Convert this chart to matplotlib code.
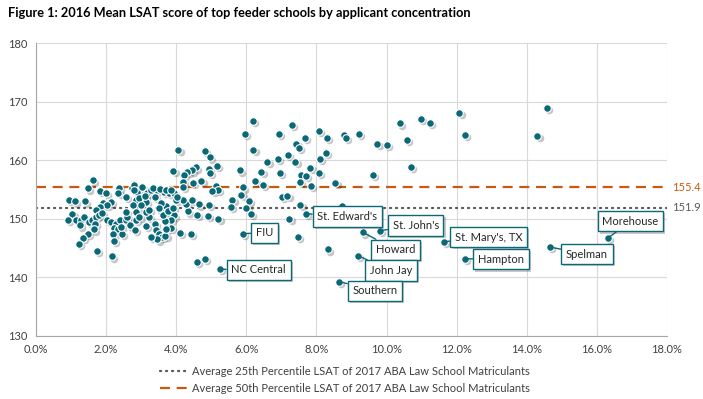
import matplotlib
matplotlib.use("Agg")
import matplotlib.pyplot as plt
import matplotlib.transforms as mtransforms
import matplotlib.patheffects as pe
from matplotlib.lines import Line2D
from matplotlib.ticker import FuncFormatter

plt.rcParams['font.family'] = ['Lato', 'DejaVu Sans']

# applicant concentration (%) and mean LSAT, unlabeled schools
conc = [
    1.62, 1.47, 1.82, 1.99, 2.36, 2.35, 2.56, 2.73, 2.80, 2.87, 2.84, 2.76, 0.93, 1.11,
    1.39, 1.90, 2.13, 2.03, 1.83, 1.70, 1.04, 1.13, 0.91, 1.28, 1.25, 1.37, 1.51, 1.59,
    1.70, 1.80, 1.87, 1.68, 1.66, 1.48, 1.34, 1.22, 1.73, 2.16, 2.02, 2.13, 2.27, 2.40,
    2.23, 2.34, 2.46, 2.21, 2.23, 2.42, 2.56, 2.68, 2.60, 2.84, 2.84, 2.56,
    4.06, 4.81, 4.97, 5.17, 4.55, 4.44, 4.32, 4.22, 3.92, 4.93, 4.95, 4.72, 4.47, 4.20,
    5.13, 5.19, 5.03, 5.60, 5.55, 5.20, 4.94, 4.90, 4.60, 4.65, 4.33, 4.27, 4.44, 4.20,
    3.98, 3.72, 3.93, 3.84, 3.67, 3.62, 3.77, 3.84, 4.10, 4.41, 3.39, 3.43, 3.51, 3.60,
    3.46, 3.69, 3.28, 3.22, 3.13, 3.58, 3.65, 3.79, 3.93, 4.03, 4.20, 2.80, 3.03, 3.18,
    3.29, 3.46, 2.94, 3.13, 2.81, 3.13, 3.22,
    3.35, 3.55, 3.70, 3.85, 3.10, 3.40, 3.00, 3.50, 3.90, 2.95, 3.70,
    4.58, 4.82,
    6.19, 5.95, 6.20, 7.31, 6.92, 8.06, 7.66, 7.43, 7.50, 8.29, 8.26, 8.10, 7.19, 6.91,
    7.40, 6.60, 5.81, 6.43, 6.95, 7.83, 8.08, 7.56, 7.70, 7.52, 6.25, 6.47, 7.84, 5.91,
    5.86, 6.07, 7.02, 7.17, 6.00, 6.12, 7.54, 7.23, 7.46, 8.32,
    8.78, 8.85, 9.20, 9.74, 10.00, 10.37, 10.57, 10.98, 11.24, 12.08, 10.70, 9.60, 8.54, 8.73,
    12.24, 14.57, 14.30,
]
lsat = [
    156.6, 155.2, 154.8, 154.5, 155.3, 154.4, 153.7, 155.3, 155.8, 154.6, 153.2, 152.4, 153.2, 153.0,
    153.0, 152.7, 152.9, 152.4, 152.1, 151.5, 150.8, 149.9, 149.9, 149.8, 148.9, 150.4, 149.5, 149.9,
    150.4, 150.7, 151.0, 149.2, 148.2, 147.4, 146.8, 145.7, 144.6, 143.6, 149.9, 149.5, 149.2, 149.8,
    148.5, 148.2, 147.4, 147.4, 146.3, 148.7, 149.8, 148.9, 150.4, 149.8, 151.2, 151.2,
    161.8, 161.6, 160.5, 159.1, 158.8, 158.3, 158.1, 157.5, 158.2, 158.5, 157.8, 156.5, 156.2, 156.3,
    155.7, 155.0, 154.8, 153.3, 152.0, 150.0, 152.4, 150.5, 150.7, 152.5, 151.3, 152.6, 153.2, 153.3,
    153.2, 152.2, 150.6, 149.9, 149.7, 150.6, 151.4, 148.5, 147.6, 147.5, 149.2, 148.1, 147.5, 146.9,
    146.5, 147.1, 146.9, 150.4, 148.8, 152.7, 154.6, 154.4, 154.5, 153.8, 155.5, 154.9, 155.5, 154.4,
    154.9, 154.9, 153.5, 152.9, 148.1, 151.2, 151.5,
    155.3, 155.1, 155.0, 154.9, 154.0, 153.8, 152.3, 151.8, 151.9, 150.3, 148.3,
    142.6, 143.2,
    166.8, 164.5, 161.8, 166.1, 164.5, 165.1, 163.8, 162.8, 162.2, 163.8, 161.3, 160.3, 161.0, 160.2,
    159.7, 159.7, 158.3, 158.1, 157.9, 158.7, 157.9, 157.5, 157.3, 156.3, 156.5, 155.8, 155.6, 155.4,
    154.1, 153.1, 153.7, 153.9, 151.9, 150.9, 152.4, 150.0, 146.9, 144.8,
    164.4, 163.8, 164.5, 162.8, 162.7, 166.3, 163.5, 167.1, 166.4, 168.1, 158.9, 157.5, 156.2, 152.2,
    164.4, 169.0, 164.2,
]

# labeled schools
names = ["FIU", "NC Central", "St. Edward's", "St. John's", "Howard", "John Jay",
         "Southern", "St. Mary's, TX", "Hampton", "Spelman", "Morehouse"]
names_conc = [5.90, 5.25, 7.69, 9.82, 9.33, 9.19, 8.65, 11.63, 12.24, 14.65, 16.31]
names_lsat = [147.5, 141.4, 150.9, 148.0, 147.7, 143.7, 139.3, 146.1, 143.2, 145.2, 146.7]
# label text positions
label_x = [6.52, 6.35, 8.88, 10.83, 10.26, 10.13, 9.67, 12.92, 13.26, 15.72, 16.96]
label_y = [147.6, 141.3, 150.4, 148.9, 144.7, 141.2, 137.7, 146.9, 143.1, 144.0, 149.6]

p25 = 151.9
p50 = 155.4

teal = '#0b6877'
orange = '#c55a11'
gray = '#595959'

fig = plt.figure(figsize=(7.03, 3.99), dpi=100)
ax = fig.add_axes([36 / 703, 1 - 336 / 399, 631 / 703, 292.7 / 399])

all_x = conc + names_conc
all_y = lsat + names_lsat

# drop shadow for markers
shadow = mtransforms.offset_copy(ax.transData, fig=fig, x=1.6, y=-1.6, units='points')
ax.scatter(all_x, all_y, s=30, color='#000000', alpha=0.22, lw=0, transform=shadow, zorder=3)
ax.scatter(all_x, all_y, s=30, color=teal, edgecolor='white', lw=0.8, zorder=4)

ax.axhline(p50, color=orange, lw=1.6, ls=(0, (4.5, 3)), zorder=2)
ax.axhline(p25, color=gray, lw=1.6, ls=(0, (0.5, 2.2)), dash_capstyle='round', zorder=2)
ax.text(18.15, p50, '155.4', color=orange, fontsize=8, va='center', ha='left')
ax.text(18.15, p25, '151.9', color=gray, fontsize=8, va='center', ha='left')

for n, px, py, lx, ly in zip(names, names_conc, names_lsat, label_x, label_y):
    t = ax.annotate(n, xy=(px, py), xytext=(lx, ly), fontsize=8, color='#262626',
                    ha='center', va='center', zorder=6,
                    bbox=dict(boxstyle='square,pad=0.42', fc='white', ec=teal, lw=1.0),
                    arrowprops=dict(arrowstyle='-', color=teal, lw=1.0, shrinkA=0, shrinkB=2))
    t.get_bbox_patch().set_path_effects([pe.SimplePatchShadow(offset=(1.5, -1.5), alpha=0.3), pe.Normal()])

ax.set_xlim(0, 18)
ax.set_ylim(130, 180)
ax.set_xticks(range(0, 19, 2))
ax.set_yticks(range(130, 181, 10))
ax.xaxis.set_major_formatter(FuncFormatter(lambda v, p: f'{v:.1f}%'))
ax.grid(True, color='#d9d9d9', lw=0.8, zorder=0)
ax.set_axisbelow(True)
for s in ['top', 'right']:
    ax.spines[s].set_visible(False)
for s in ['left', 'bottom']:
    ax.spines[s].set_color('#a6a6a6')
ax.tick_params(length=0, labelsize=8, colors='#404040', pad=6)

fig.text(8 / 703, 1 - 13 / 399, 'Figure 1: 2016 Mean LSAT score of top feeder schools by applicant concentration',
         fontsize=9.2, fontweight='bold', va='center', ha='left', color='black')

handles = [Line2D([], [], color=gray, lw=1.6, ls=(0, (0.5, 2.2)), dash_capstyle='round'),
           Line2D([], [], color=orange, lw=1.6, ls=(0, (4.5, 3)))]
fig.legend(handles, ['Average 25th Percentile LSAT of 2017 ABA Law School Matriculants',
                     'Average 50th Percentile LSAT of 2017 ABA Law School Matriculants'],
           loc='center', bbox_to_anchor=(345 / 703, 1 - 380 / 399), frameon=False,
           fontsize=8, handlelength=2.4, handletextpad=0.5, labelspacing=0.6, labelcolor='#404040')

fig.savefig('out.png', dpi=100)
